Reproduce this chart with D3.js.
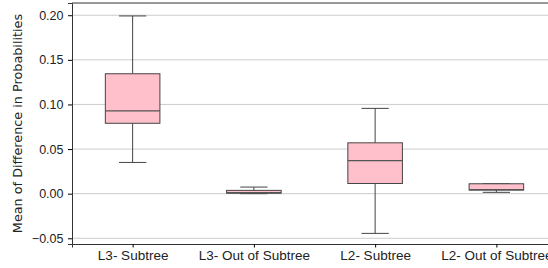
<!DOCTYPE html>
<html>
<head>
<meta charset="utf-8">
<script src="https://cdn.jsdelivr.net/npm/d3@7"></script>
<style>
  body { margin: 0; background: #fff; }
  svg { font-family: "DejaVu Sans", sans-serif; }
</style>
</head>
<body>
<div id="chart"></div>
<script>
const categories = ['L3- Subtree', 'L3- Out of Subtree', 'L2- Subtree', 'L2- Out of Subtree']
const whiskerLow = [0.035, 0.0, -0.0445, 0.0015]
const q1 = [0.0789, 0.0005, 0.0114, 0.004]
const median = [0.0929, 0.0012, 0.037, 0.0045]
const q3 = [0.1344, 0.0037, 0.057, 0.0111]
const whiskerHigh = [0.1992, 0.0074, 0.0956, 0.0111]
const yTicks = [-0.05, 0.0, 0.05, 0.10, 0.15, 0.20]

const width = 548, height = 268
const margin = { top: 3, left: 72, bottom: 24 }
const plotRight = 557

const boxes = categories.map((c, i) => ({
    name: c, lo: whiskerLow[i], q1: q1[i], med: median[i], q3: q3[i], hi: whiskerHigh[i]
}))

const svg = d3.select('#chart').append('svg')
    .attr('width', width).attr('height', height)

const x = d3.scalePoint().domain(categories)
    .range([margin.left, plotRight]).padding(0.5)
const y = d3.scaleLinear().domain([-0.0564, 0.2137])
    .range([height - margin.bottom, margin.top])

const boxW = x.step() * 0.45

// grid
svg.append('g').selectAll('line').data(yTicks).join('line')
    .attr('x1', margin.left).attr('x2', plotRight)
    .attr('y1', d => y(d)).attr('y2', d => y(d))
    .attr('stroke', '#cccccc').attr('stroke-width', 1)

const g = svg.append('g').selectAll('g').data(boxes).join('g')
    .attr('transform', d => `translate(${x(d.name)},0)`)

g.append('line')
    .attr('y1', d => y(d.hi)).attr('y2', d => y(d.q3))
    .attr('stroke', '#444').attr('stroke-width', 1)
g.append('line')
    .attr('y1', d => y(d.q1)).attr('y2', d => y(d.lo))
    .attr('stroke', '#444').attr('stroke-width', 1)
g.append('line')
    .attr('x1', -boxW / 4).attr('x2', boxW / 4)
    .attr('y1', d => y(d.hi)).attr('y2', d => y(d.hi))
    .attr('stroke', '#444').attr('stroke-width', 1)
g.append('line')
    .attr('x1', -boxW / 4).attr('x2', boxW / 4)
    .attr('y1', d => y(d.lo)).attr('y2', d => y(d.lo))
    .attr('stroke', '#444').attr('stroke-width', 1)
g.append('rect')
    .attr('x', -boxW / 2).attr('width', boxW)
    .attr('y', d => y(d.q3)).attr('height', d => y(d.q1) - y(d.q3))
    .attr('fill', 'pink').attr('stroke', '#444').attr('stroke-width', 1)
g.append('line')
    .attr('x1', -boxW / 2).attr('x2', boxW / 2)
    .attr('y1', d => y(d.med)).attr('y2', d => y(d.med))
    .attr('stroke', '#555').attr('stroke-width', 1.2)

// axes
const yAxis = svg.append('g')
    .attr('transform', `translate(${margin.left},0)`)
    .call(d3.axisLeft(y).tickValues(yTicks).tickFormat(d3.format('.2f'))
        .tickSizeOuter(0).tickSize(4).tickPadding(4.5))
yAxis.select('.domain').attr('stroke', '#333')
yAxis.selectAll('text').attr('font-size', 12.5).attr('fill', '#222')
    .text(d => d < 0 ? '\u2212' + d3.format('.2f')(-d) : d3.format('.2f')(d))

const xAxis = svg.append('g')
    .attr('transform', `translate(0,${height - margin.bottom})`)
    .call(d3.axisBottom(x).tickSizeOuter(0).tickSize(3.5))
xAxis.select('.domain').attr('stroke', '#333')
xAxis.selectAll('text').attr('font-size', 13.5).attr('fill', '#222')

svg.append('line')
    .attr('x1', margin.left).attr('x2', plotRight)
    .attr('y1', margin.top).attr('y2', margin.top)
    .attr('stroke', '#333')

svg.append('text')
    .attr('transform', `translate(22,${(margin.top + height - margin.bottom) / 2}) rotate(-90)`)
    .attr('text-anchor', 'middle')
    .attr('font-size', 12.8).attr('fill', '#222')
    .text('Mean of Difference in Probabilities')
</script>
</body>
</html>
